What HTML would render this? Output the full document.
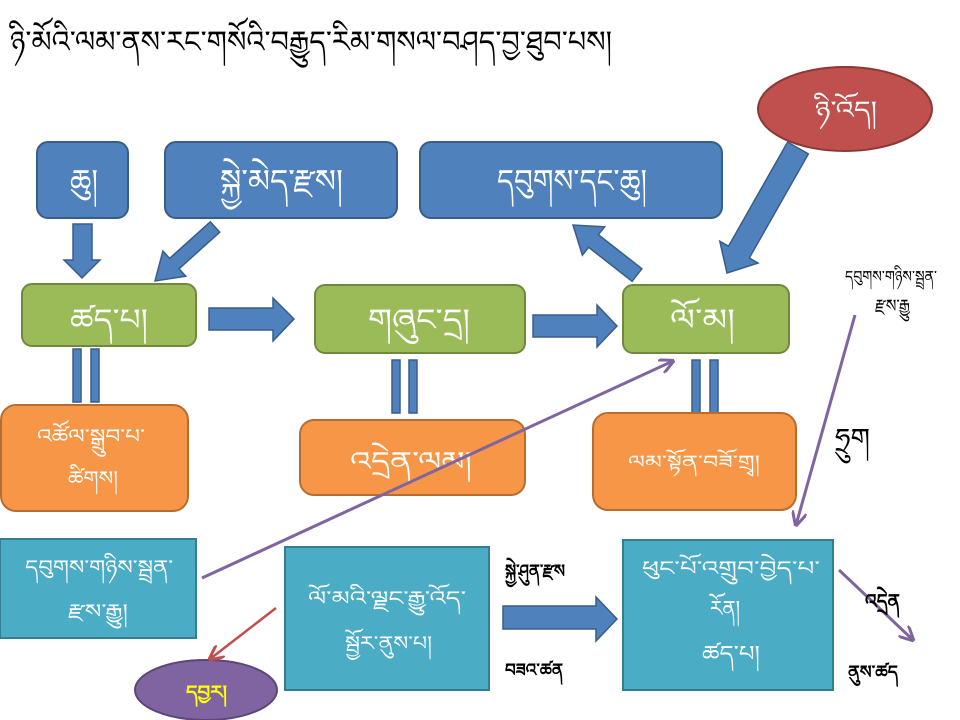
<!DOCTYPE html>
<html>
<head>
<meta charset="utf-8">
<style>
  html, body { margin:0; padding:0; background:#ffffff; }
  body { width:960px; height:720px; overflow:hidden; }
  svg { display:block; }
  text { font-family: "Liberation Sans", "DejaVu Sans", sans-serif; }
  .w { fill:#ffffff; }
  .k { fill:#000000; }
</style>
</head>
<body>
<svg width="960" height="720" viewBox="0 0 960 720" xmlns="http://www.w3.org/2000/svg">
  <defs>
    <marker id="mp" viewBox="0 0 10 10" refX="9" refY="5" markerWidth="5" markerHeight="5" orient="auto" markerUnits="strokeWidth">
      <path d="M0,0 L10,5 L0,10" fill="none" stroke="#8064A2" stroke-width="2"/>
    </marker>
    <marker id="mr" viewBox="0 0 10 10" refX="9" refY="5" markerWidth="6" markerHeight="6" orient="auto" markerUnits="strokeWidth">
      <path d="M0,0 L10,5 L0,10" fill="none" stroke="#C0504D" stroke-width="2"/>
    </marker>
  </defs>

  <!-- Title -->
  <text class="k" x="10" y="52" font-size="30" textLength="602" lengthAdjust="spacingAndGlyphs">ཉི་མོའི་ལམ་ནས་རང་གསོའི་བརྒྱུད་རིམ་གསལ་བཤད་བྱ་ཐུབ་པས།</text>

  <!-- Block arrows (blue) -->
  <g fill="#4F81BD" stroke="#385D8A" stroke-width="1.5">
    <polygon points="73,224 92,224 92,260 100,260 82,278 64,260 73,260"/>
    <polygon points="219.7,232.2 179,268.8 185.7,276.2 155,281 162.9,251 169.6,258.4 210.3,221.8"/>
    <polygon points="209,308 273,308 273,298 294,319 273,341 273,330 209,330"/>
    <polygon points="533,315 597,315 597,305 617,326 597,347 597,337 533,337"/>
    <polygon points="641.9,268.7 598.4,234.7 604.6,226.8 573,225 582.4,255.2 588.6,247.3 632.1,281.3"/>
    <polygon points="808.4,153.9 749.3,258 758,263 727,273 719.8,241.2 728.5,246.2 787.6,142.1"/>
    <polygon points="503,606 596,606 596,597 617,619 596,641 596,629 503,629"/>
    <!-- double bars -->
    <rect x="73" y="349" width="8" height="53"/>
    <rect x="91" y="349" width="8" height="53"/>
    <rect x="392" y="360" width="8" height="53"/>
    <rect x="409" y="360" width="8" height="53"/>
    <rect x="692" y="360" width="8" height="53"/>
    <rect x="710" y="360" width="8" height="53"/>
  </g>

  <!-- Top blue boxes -->
  <g fill="#4F81BD" stroke="#385D8A" stroke-width="2">
    <rect x="37" y="142" width="91" height="76" rx="11"/>
    <rect x="165" y="142" width="232" height="76" rx="11"/>
    <rect x="420" y="142" width="302" height="76" rx="11"/>
  </g>
  <text class="w" x="70" y="192" font-size="32" textLength="28" lengthAdjust="spacingAndGlyphs">ཆུ།</text>
  <text class="w" x="220" y="192" font-size="32" textLength="123" lengthAdjust="spacingAndGlyphs">སྐྱེ་མེད་རྫས།</text>
  <text class="w" x="497" y="192" font-size="32" textLength="150" lengthAdjust="spacingAndGlyphs">དབུགས་དང་ཆུ།</text>

  <!-- Red ellipse -->
  <ellipse cx="845" cy="109" rx="87" ry="42" fill="#C0504D" stroke="#8C3836" stroke-width="2"/>
  <text class="w" x="815" y="118" font-size="24" textLength="62" lengthAdjust="spacingAndGlyphs">ཉི་འོད།</text>

  <!-- Green boxes -->
  <g fill="#9BBB59" stroke="#71893F" stroke-width="2">
    <rect x="22" y="284" width="174" height="62" rx="10"/>
    <rect x="315" y="285" width="210" height="68" rx="10"/>
    <rect x="623" y="285" width="166" height="68" rx="10"/>
  </g>
  <text class="w" x="70" y="330" font-size="30" textLength="78" lengthAdjust="spacingAndGlyphs">ཚད་པ།</text>
  <text class="w" x="368" y="330" font-size="30" textLength="102" lengthAdjust="spacingAndGlyphs">གཞུང་དྲ།</text>
  <text class="w" x="670" y="330" font-size="30" textLength="65" lengthAdjust="spacingAndGlyphs">ལོ་མ།</text>

  <!-- Orange boxes -->
  <g fill="#F79646" stroke="#B66D31" stroke-width="2">
    <rect x="1" y="405" width="187" height="106" rx="15"/>
    <rect x="300" y="420" width="225" height="75" rx="14"/>
    <rect x="593" y="413" width="203" height="97" rx="15"/>
  </g>
  <text class="w" x="37" y="443" font-size="20" textLength="108" lengthAdjust="spacingAndGlyphs">འཚོལ་སྒྲུབ་པ་</text>
  <text class="w" x="68" y="485" font-size="20" textLength="50" lengthAdjust="spacingAndGlyphs">ཚིགས།</text>
  <text class="w" x="350" y="470" font-size="26" textLength="122" lengthAdjust="spacingAndGlyphs">འདྲེན་ལམ།</text>
  <text class="w" x="628" y="468" font-size="18" textLength="132" lengthAdjust="spacingAndGlyphs">ལམ་སྟོན་བཟོ་གྲྭ།</text>

  <!-- Teal boxes -->
  <g fill="#4BACC6" stroke="#357D91" stroke-width="2">
    <rect x="0" y="539" width="196" height="99"/>
    <rect x="285" y="547" width="204" height="143"/>
    <rect x="623" y="540" width="210" height="150"/>
  </g>
  <text class="w" x="25" y="574" font-size="20" textLength="148" lengthAdjust="spacingAndGlyphs">དབུགས་གཉིས་སྦྲན་</text>
  <text class="w" x="68" y="618" font-size="20" textLength="60" lengthAdjust="spacingAndGlyphs">རྫས་རྒྱུ།</text>
  <text class="w" x="308" y="605" font-size="20" textLength="158" lengthAdjust="spacingAndGlyphs">ལོ་མའི་ལྗང་རྒྱུ་འོད་</text>
  <text class="w" x="345" y="650" font-size="20" textLength="87" lengthAdjust="spacingAndGlyphs">སྦྱོར་ནུས་པ།</text>
  <text class="w" x="642" y="575" font-size="20" textLength="178" lengthAdjust="spacingAndGlyphs">ཕུང་པོ་འགྲུབ་བྱེད་པ་</text>
  <text class="w" x="710" y="616" font-size="22" textLength="30" lengthAdjust="spacingAndGlyphs">རོན།</text>
  <text class="w" x="702" y="661" font-size="22" textLength="58" lengthAdjust="spacingAndGlyphs">ཚད་པ།</text>

  <!-- Purple ellipse -->
  <ellipse cx="206" cy="690" rx="71" ry="30" fill="#8064A2" stroke="#5C4776" stroke-width="2"/>
  <text x="186" y="698" font-size="18" font-weight="bold" fill="#FFFF00" textLength="41" lengthAdjust="spacingAndGlyphs">དབྱར།</text>

  <!-- Line connectors -->
  <line x1="202" y1="578" x2="673" y2="361" stroke="#8064A2" stroke-width="3" marker-end="url(#mp)"/>
  <line x1="855" y1="315" x2="796" y2="525" stroke="#8064A2" stroke-width="3" marker-end="url(#mp)"/>
  <line x1="839" y1="570" x2="913" y2="640" stroke="#8064A2" stroke-width="3" marker-end="url(#mp)"/>
  <line x1="276" y1="608" x2="210" y2="659" stroke="#C0504D" stroke-width="2.5" marker-end="url(#mr)"/>

  <!-- Black labels -->
  <text class="k" x="845" y="282" font-size="16" textLength="92" lengthAdjust="spacingAndGlyphs">དབུགས་གཉིས་སྦྲན་</text>
  <text class="k" x="875" y="312" font-size="18" textLength="35" lengthAdjust="spacingAndGlyphs">རྫས་རྒྱུ</text>
  <text class="k" x="835" y="448" font-size="28" textLength="35" lengthAdjust="spacingAndGlyphs">ཧྲུག</text>
  <text class="k" x="505" y="577" font-size="18" font-weight="bold" textLength="60" lengthAdjust="spacingAndGlyphs">སྐྱེ་ཤུན་རྫས</text>
  <text class="k" x="505" y="676" font-size="18" font-weight="bold" textLength="58" lengthAdjust="spacingAndGlyphs">བཟའ་ཚན</text>
  <text class="k" x="865" y="608" font-size="20" font-weight="bold" textLength="35" lengthAdjust="spacingAndGlyphs">འདྲེན</text>
  <text class="k" x="848" y="678" font-size="18" font-weight="bold" textLength="50" lengthAdjust="spacingAndGlyphs">ནུས་ཚད</text>
</svg>
</body>
</html>
